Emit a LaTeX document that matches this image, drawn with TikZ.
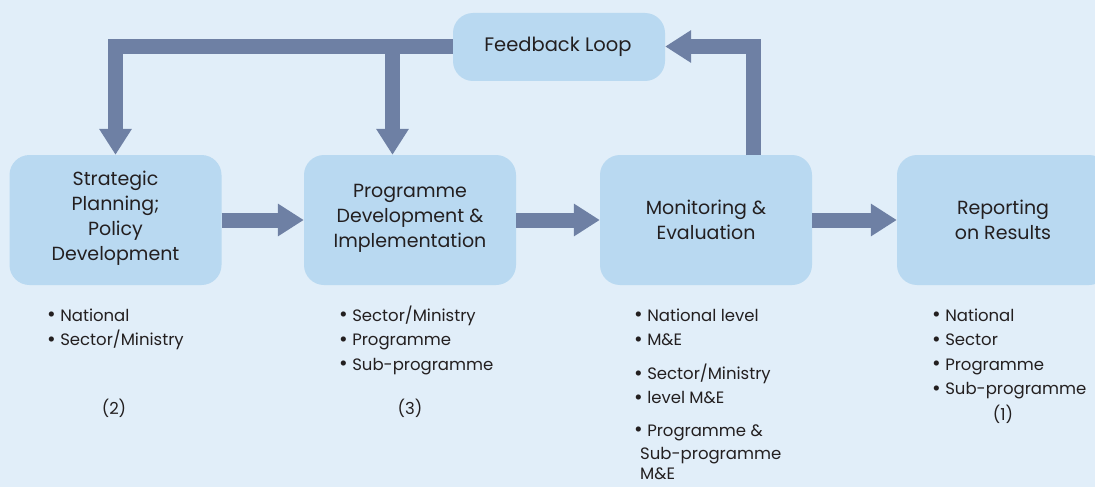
\documentclass[tikz,border=0pt]{standalone}
\usepackage{fontspec}
\setmainfont{Poppins}
\usetikzlibrary{arrows.meta}
\definecolor{bgc}{HTML}{E1EEF9}
\definecolor{boxc}{HTML}{B9D9F1}
\definecolor{arrc}{HTML}{6E80A4}
\definecolor{txtc}{HTML}{231F20}
\newcommand{\blt}{{\fontsize{21pt}{25pt}\selectfont\raisebox{-0.5pt}{•}}}
\tikzset{
  stage/.style={fill=boxc, draw=none, rounded corners=20pt, minimum width=212pt, minimum height=130pt, inner sep=0pt},
  stagetext/.style={align=center, text=txtc, inner sep=0pt, font=\fontsize{19pt}{25pt}\selectfont},
  listtext/.style={anchor=base west, text=txtc, inner sep=0pt, font=\fontsize{16.5pt}{25pt}\selectfont},
  numtext/.style={anchor=base, text=txtc, inner sep=0pt, font=\fontsize{16.5pt}{25pt}\selectfont},
  fatarrow/.style={draw=arrc, line width=15pt, line join=miter, -{Triangle[width=31pt,length=26pt]}}
}
\begin{document}
\begin{tikzpicture}[x=1pt,y=-1pt]
\useasboundingbox (0,0) rectangle (1095,487);
\clip (0,0) rectangle (1095,487);
\fill[bgc] (0,0) rectangle (1095,487);
% boxes
\node[stage] (s1) at (115.5,220) {};
\node[stage] (s2) at (410,220) {};
\node[stage] (s3) at (706,220) {};
\node[stage] (s4) at (1003,220) {};
\node[stage, minimum height=68pt] (fb) at (559,47) {};
% box texts
\node[stagetext] (t1) at (115.5,218) {Strategic\\Planning;\\Policy\\Development};
\node[stagetext] (t2) at (410,218) {Programme\\Development \&\\Implementation};
\node[stagetext] (t3) at (706,220) {Monitoring \&\\Evaluation};
\node[stagetext] (t4) at (1003,220) {Reporting\\on Results};
\node[stagetext, font=\fontsize{19.5pt}{25pt}\selectfont] (tf) at (558,47) {Feedback Loop};
% horizontal arrows
\draw[fatarrow] (s1.east) -- (s2.west);
\draw[fatarrow] (s2.east) -- (s3.west);
\draw[fatarrow] (s3.east) -- (s4.west);
% feedback arrows
\coordinate (up) at (753,155);
\coordinate (turn) at (753,46.5);
\draw[fatarrow] (up) -- (turn) -- (fb.east |- turn);
\coordinate (fl) at (fb.west |- turn);
\coordinate (lc) at (s1.north |- turn);
\coordinate (mid) at (392.5,46.5);
\draw[fatarrow] (fl) -- (lc) -- (s1.north);
\draw[fatarrow] (mid) -- (mid |- s2.north);
% lists
\node[listtext] (a1) at (47,321) {\blt\ National};
\node[listtext] (a2) at (47,345.5) {\blt\ Sector/Ministry};
\node[numtext] (a3) at (114,414) {(2)};
\node[listtext] (b1) at (339,321) {\blt\ Sector/Ministry};
\node[listtext] (b2) at (339,345.5) {\blt\ Programme};
\node[listtext] (b3) at (339,370) {\blt\ Sub-programme};
\node[numtext] (b4) at (410,414) {(3)};
\node[listtext] (c1) at (634,321) {\blt\ National level};
\node[listtext] (c2) at (634,345.5) {\blt\ M\&E};
\node[listtext] (c3) at (634,379.5) {\blt\ Sector/Ministry};
\node[listtext] (c4) at (634,403.5) {\blt\ level M\&E};
\node[listtext] (c5) at (634,436) {\blt\ Programme \&};
\node[listtext] (c6) at (640,459) {Sub-programme};
\node[listtext] (c7) at (640,479.5) {M\&E};
\node[listtext] (d1) at (932,321) {\blt\ National};
\node[listtext] (d2) at (932,345.5) {\blt\ Sector};
\node[listtext] (d3) at (932,370) {\blt\ Programme};
\node[listtext] (d4) at (932,394.5) {\blt\ Sub-programme};
\node[numtext] (d5) at (1003,420) {(1)};
\end{tikzpicture}
\end{document}
